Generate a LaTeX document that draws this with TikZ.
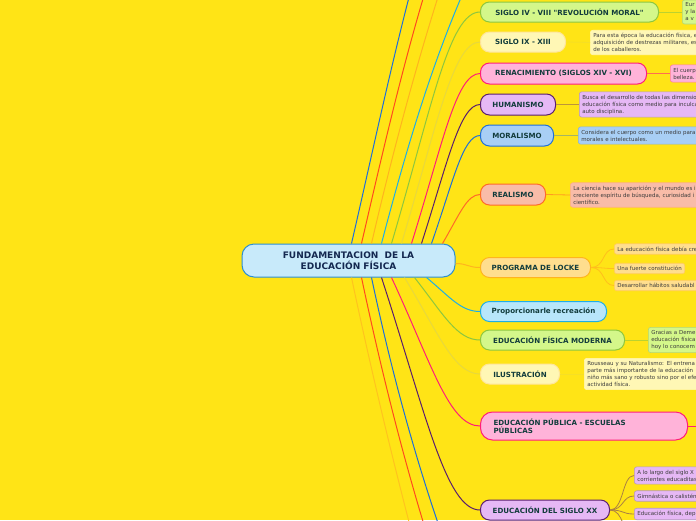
\documentclass[tikz,border=0pt]{standalone}
\usepackage{fontspec}
\setmainfont{DejaVu Sans}[Ligatures=TeXOff]
\usetikzlibrary{positioning, calc}
\definecolor{bg}{RGB}{255, 228, 22}
\definecolor{hubF}{RGB}{200, 234, 250}
\definecolor{hubD}{RGB}{46, 143, 208}
\definecolor{hubT}{RGB}{20, 40, 80}
\definecolor{topT}{RGB}{18, 60, 60}
\definecolor{memoT}{RGB}{60, 60, 60}
\definecolor{grnF}{RGB}{212, 247, 138}
\definecolor{grnD}{RGB}{141, 198, 63}
\definecolor{ylwF}{RGB}{255, 247, 181}
\definecolor{ylwD}{RGB}{232, 216, 60}
\definecolor{pnkF}{RGB}{255, 179, 217}
\definecolor{pnkD}{RGB}{255, 30, 120}
\definecolor{purF}{RGB}{230, 184, 245}
\definecolor{purD}{RGB}{90, 30, 110}
\definecolor{bluF}{RGB}{168, 207, 245}
\definecolor{bluD}{RGB}{31, 111, 216}
\definecolor{salF}{RGB}{249, 188, 168}
\definecolor{salD}{RGB}{255, 106, 40}
\definecolor{orgF}{RGB}{255, 222, 142}
\definecolor{orgD}{RGB}{255, 180, 30}
\definecolor{cyaF}{RGB}{184, 230, 250}
\definecolor{cyaD}{RGB}{30, 174, 230}
\definecolor{redD}{RGB}{255, 74, 30}
\definecolor{oyD}{RGB}{255, 195, 30}

\tikzset{
    hub/.style={draw=hubD, fill=hubF, line width=1pt, rounded corners=12pt, minimum width=213pt, minimum height=33pt, align=center, text=hubT, font=\bfseries\fontsize{9}{10.5}\selectfont},
    topic/.style={draw, line width=1pt, rounded corners=9pt, minimum height=20pt, anchor=west, text=topT, font=\bfseries\fontsize{7.1}{8.2}\selectfont},
    memo/.style={draw, line width=0.6pt, rounded corners=2.5pt, anchor=west, align=left, inner sep=3pt, text=memoT, font=\fontsize{5.5}{7}\selectfont},
    link/.style={line width=1pt},
    twig/.style={line width=0.8pt}
}

\begin{document}
\begin{tikzpicture}[x=1pt, y=-1pt]
    \clip (0,0) rectangle (696,520);
    \fill[bg] (0,0) rectangle (696,520);

    % centre
    \node[hub] (c) at (348.5,260.5) {FUNDAMENTACION~ DE LA\\EDUCACIÓN FÍSICA};

    % topics
    \node[topic, fill=grnF, draw=grnD, minimum width=178pt] (s4) at (480,12) {SIGLO IV - VIII "REVOLUCIÓN MORAL"};
    \node[topic, fill=ylwF, draw=ylwF!85!orange, minimum width=85pt] (s9) at (480,42) {SIGLO IX - XIII};
    \node[topic, fill=pnkF, draw=pnkD, minimum width=166pt, minimum height=21pt] (ren) at (480,73.5) {RENACIMIENTO (SIGLOS XIV - XVI)};
    \node[topic, fill=purF, draw=purD, minimum width=75pt, minimum height=21pt] (hum) at (480,104.5) {HUMANISMO};
    \node[topic, fill=bluF, draw=bluD, minimum width=73pt, minimum height=21pt] (mor) at (480,135.5) {MORALISMO};
    \node[topic, fill=salF, draw=salD, minimum width=65pt, minimum height=21pt] (rea) at (480,194.5) {REALISMO};
    \node[topic, fill=orgF, draw=orgD, minimum width=110pt] (loc) at (480,267.5) {PROGRAMA DE LOCKE};
    \node[topic, fill=cyaF, draw=cyaD, minimum width=126pt] (rec) at (480,311.5) {Proporcionarle recreación};
    \node[topic, fill=grnF, draw=grnD, minimum width=144pt] (efm) at (480,340) {EDUCACIÓN FÍSICA MODERNA};
    \node[topic, fill=ylwF, draw=ylwF!85!orange, minimum width=79pt] (ilu) at (480,374) {ILUSTRACIÓN};
    \node[topic, fill=pnkF, draw=pnkD, text width=181pt, inner xsep=13pt, minimum height=28pt, align=left, rounded corners=12pt] (pub) at (480,426) {EDUCACIÓN PÚBLICA - ESCUELAS\\PÚBLICAS};
    \node[topic, fill=purF, draw=purD, minimum width=129pt] (s20) at (480,510) {EDUCACIÓN DEL SIGLO XX};

    % notes
    \node[memo, fill=grnF, draw=grnD!70, text width=40pt] (n4) at (682,12) {Eur\\y la\\a v};
    \node[memo, fill=ylwF, draw=ylwF, text width=130pt] (n9) at (590,42.5) {Para esta época la educación física, e\\adquisición de destrezas militares, es\\de los caballeros.};
    \node[memo, fill=pnkF, draw=pnkD!60, text width=60pt] (nren) at (670,73.5) {El cuerp\\belleza.};
    \node[memo, fill=purF, draw=purD!45, text width=140pt] (nhum) at (579,104.5) {Busca el desarrollo de todas las dimensio\\educación física como medio para inculca\\auto disciplina.};
    \node[memo, fill=bluF, draw=bluD!55, text width=140pt] (nmor) at (578,135.5) {Considera el cuerpo como un medio para\\morales e intelectuales.};
    \node[memo, fill=salF, draw=salD!55, text width=150pt] (nrea) at (570,195) {La ciencia hace su aparición y el mundo es i\\creciente espíritu de búsqueda, curiosidad i\\científico.};
    \node[memo, fill=orgF, draw=orgD!70, text width=110pt] (l1) at (614,249) {La educación física debía cre};
    \node[memo, fill=orgF, draw=orgD!70] (l2) at (614,268.5) {Una fuerte constitución};
    \node[memo, fill=orgF, draw=orgD!70, text width=110pt] (l3) at (614,285.5) {Desarrollar hábitos saludabl};
    \node[memo, fill=grnF, draw=grnD!70, text width=70pt] (nefm) at (648,340) {Gracias a Deme\\educación física\\hoy lo conocem};
    \node[memo, fill=ylwF, draw=ylwF, text width=140pt] (nilu) at (584,374) {Rousseau y su Naturalismo: El entrena\\parte más importante de la educación\\niño más sano y robusto sino por el efe\\actividad física.};
    \node[memo, fill=purF, draw=purD!45, text width=90pt] (x1) at (634,475.5) {A lo largo del siglo X\\corrientes educaditas};
    \node[memo, fill=purF, draw=purD!45, text width=90pt] (x2) at (634,496) {Gimnástica o calisténi};
    \node[memo, fill=purF, draw=purD!45, text width=90pt] (x3) at (634,514) {Educación física, dep};

    % loose ends
    \coordinate (ta) at (419,-40);
    \coordinate (tb) at (435,-40);
    \coordinate (tc) at (450,-40);
    \coordinate (td) at (478,-40);
    \coordinate (ba) at (419,560);
    \coordinate (bb) at (435,560);
    \coordinate (bc) at (451,560);
    \coordinate (pubR) at (720,426);
    \coordinate (x4) at (634,535);

    % branches up
    \draw[link, bluD] ([xshift=110pt]c.north west) .. controls +(22,-95) and +(-25,90) .. (ta);
    \draw[link, redD] ([xshift=120pt]c.north west) .. controls +(22,-95) and +(-29,90) .. (tb);
    \draw[link, orgD] ([xshift=130pt]c.north west) .. controls +(22,-95) and +(-30,90) .. (tc);
    \draw[link, cyaD] ([xshift=140pt]c.north west) .. controls +(25,-95) and +(-43,90) .. (td);
    \draw[link, grnD] ([xshift=150pt]c.north west) .. controls +(40,-135) and +(-31,0) .. (s4.west);
    \draw[link, ylwD] ([xshift=160pt]c.north west) .. controls +(35,-117) and +(-27,0) .. (s9.west);
    \draw[link, pnkD] ([xshift=170pt]c.north west) .. controls +(31,-99) and +(-24,0) .. (ren.west);
    \draw[link, purD] ([xshift=180pt]c.north west) .. controls +(26,-81) and +(-20,0) .. (hum.west);
    \draw[link, bluD] ([xshift=190pt]c.north west) .. controls +(22,-63) and +(-17,0) .. (mor.west);
    \draw[link, salD] ([xshift=201pt]c.north west) .. controls +(17,-29) and +(-13,0) .. (rea.west);

    % branches down
    \draw[link, orgD] ([yshift=-3pt]c.east) .. controls +(12,0) and +(-12,0) .. (loc.west);
    \draw[link, cyaD] ([xshift=185pt]c.south west) .. controls +(24,20) and +(-19,0) .. (rec.west);
    \draw[link, grnD] ([xshift=173pt]c.south west) .. controls +(29,37) and +(-23,0) .. (efm.west);
    \draw[link, ylwD] ([xshift=163pt]c.south west) .. controls +(34,56) and +(-26,0) .. (ilu.west);
    \draw[link, pnkD] ([xshift=150pt]c.south west) .. controls +(40,86) and +(-31,0) .. (pub.west);
    \draw[link, purD] ([xshift=140pt]c.south west) .. controls +(44,135) and +(-34,0) .. (s20.west);
    \draw[link, oyD] ([xshift=110pt]c.south west) .. controls +(20,95) and +(-24,-90) .. (ba);
    \draw[link, redD] ([xshift=120pt]c.south west) .. controls +(20,95) and +(-29,-90) .. (bb);
    \draw[link, bluD] ([xshift=130pt]c.south west) .. controls +(20,95) and +(-33,-90) .. (bc);

    % twigs
    \draw[twig, grnD!60!bg] (s4.east) -- (n4.west);
    \draw[twig, ylwD!40!bg] (s9.east) -- (n9.west);
    \draw[twig, pnkD!60!bg] (ren.east) -- (nren.west);
    \draw[twig, purD!40!bg] (hum.east) -- (nhum.west);
    \draw[twig, bluD!40!bg] (mor.east) -- (nmor.west);
    \draw[twig, salD!60!bg] (rea.east) -- (nrea.west);
    \draw[twig, grnD!60!bg] (efm.east) -- (nefm.west);
    \draw[twig, ylwD!40!bg] (ilu.east) -- (nilu.west);
    \draw[link, pnkD] (pub.east) -- (pubR);
    \foreach \k in {l1, l2, l3}
        \draw[twig, orgD!80!bg] (loc.east) .. controls +(14,0) and +(-12,0) .. (\k.west);
    \foreach \k in {x1, x2, x3, x4}
        \draw[twig, purD!50!bg] (s20.east) .. controls +(14,0) and +(-12,0) .. (\k.west);
\end{tikzpicture}
\end{document}
